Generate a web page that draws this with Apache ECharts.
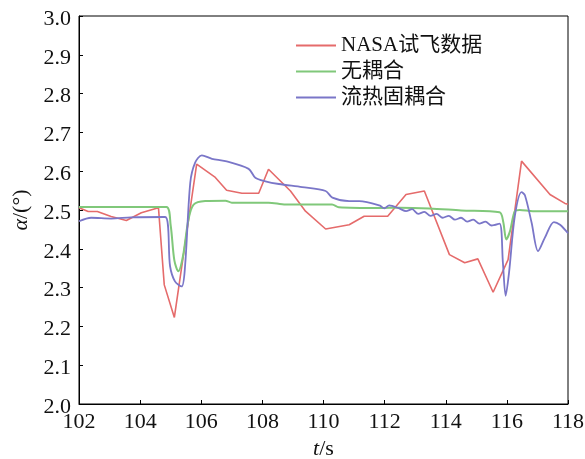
<!DOCTYPE html>
<html>
<head>
<meta charset="utf-8">
<script src="https://cdn.jsdelivr.net/npm/echarts@6/dist/echarts.min.js"></script>
<style>
  html, body { margin: 0; padding: 0; background: #fff; }
  #chart { width: 585px; height: 459px; }
</style>
</head>
<body>
<div id="chart"></div>
<script>
// NASA 试飞数据
const nasaData = [
  [102, 2.506], [102.3, 2.496], [102.6, 2.496], [103.05, 2.483], [103.55, 2.473],
  [104.04, 2.493], [104.6, 2.506], [104.79, 2.307], [105.12, 2.223], [105.85, 2.618],
  [106.46, 2.584], [106.83, 2.551], [107.33, 2.543], [107.88, 2.543], [108.2, 2.605],
  [108.92, 2.549], [109.41, 2.497], [110.07, 2.451], [110.84, 2.462], [111.33, 2.484],
  [112.1, 2.484], [112.7, 2.54], [113.3, 2.549], [114.12, 2.385], [114.62, 2.364],
  [115.05, 2.374], [115.55, 2.288], [116.04, 2.372], [116.48, 2.626], [117.41, 2.54],
  [117.9, 2.517], [118, 2.515]
];
// 无耦合
const uncoupledData = [
  [102, 2.508], [103, 2.508], [104, 2.508], [104.86, 2.508], [105.0, 2.46],
  [105.12, 2.37], [105.25, 2.342], [105.4, 2.38], [105.58, 2.475], [105.75, 2.514],
  [106.13, 2.523], [106.79, 2.524], [107.0, 2.519], [108.2, 2.519], [108.76, 2.514],
  [110.28, 2.514], [110.5, 2.507], [111.83, 2.505], [112.48, 2.506], [113.47, 2.504],
  [114.5, 2.499], [115.76, 2.494], [115.88, 2.47], [115.98, 2.424], [116.1, 2.445],
  [116.26, 2.497], [116.42, 2.5], [116.85, 2.497], [118, 2.497]
];
// 流热固耦合
const coupledData = [
  [102, 2.471], [102.4, 2.48], [103.05, 2.478], [103.7, 2.481], [104.82, 2.482],
  [104.98, 2.355], [105.14, 2.316], [105.36, 2.303], [105.47, 2.355], [105.64, 2.57],
  [105.8, 2.622], [106.02, 2.641], [106.35, 2.632], [106.79, 2.626], [107.55, 2.606],
  [107.77, 2.583], [108.1, 2.574], [108.54, 2.567], [109.3, 2.559], [110.07, 2.549],
  [110.29, 2.532], [110.84, 2.523], [111.17, 2.523], [111.83, 2.512], [111.99, 2.504],
  [112.15, 2.512], [112.48, 2.504], [112.7, 2.497], [112.9, 2.502], [113.1, 2.49],
  [113.3, 2.495], [113.5, 2.485], [113.7, 2.49], [113.9, 2.48], [114.1, 2.485],
  [114.3, 2.475], [114.5, 2.48], [114.7, 2.47], [114.9, 2.475], [115.1, 2.465],
  [115.3, 2.47], [115.5, 2.46], [115.76, 2.465], [115.87, 2.364], [115.96, 2.279],
  [116.07, 2.338], [116.26, 2.484], [116.48, 2.546], [116.59, 2.538], [116.81, 2.467],
  [117.02, 2.394], [117.24, 2.428], [117.54, 2.469], [117.74, 2.462], [118, 2.44]
];
const seriesNames = ['NASA试飞数据', '无耦合', '流热固耦合'];
const xTicks = { min: 102, max: 118, interval: 2 };
const yTicks = { min: 2.0, max: 3.0, interval: 0.1 };

const fontFam = 'Liberation Serif, Noto Sans CJK SC, serif';
const chart = echarts.init(document.getElementById('chart'));

const option = {
  backgroundColor: '#fff',
  animation: false,
  grid: {
    left: 79, right: 17, top: 16, bottom: 55,
    containLabel: false, outerBoundsMode: 'none',
    show: true, borderColor: '#000', borderWidth: 1
  },
  legend: {
    orient: 'vertical',
    left: 291, top: 30,
    icon: 'rect',
    itemWidth: 40, itemHeight: 2, itemGap: 5,
    data: seriesNames,
    textStyle: { fontFamily: fontFam, fontSize: 21, color: '#111' }
  },
  xAxis: {
    type: 'value',
    min: xTicks.min, max: xTicks.max, interval: xTicks.interval,
    name: '{i|t}/s',
    nameLocation: 'middle', nameGap: 33,
    nameTextStyle: {
      fontFamily: fontFam, fontSize: 22, color: '#111',
      rich: { i: { fontStyle: 'italic', fontFamily: fontFam, fontSize: 22 } }
    },
    axisLine: { lineStyle: { color: '#000', width: 1 } },
    axisTick: { inside: true, length: 4, lineStyle: { color: '#000' } },
    axisLabel: { fontFamily: fontFam, fontSize: 22, color: '#111', margin: 7 },
    splitLine: { show: false }
  },
  yAxis: {
    type: 'value',
    min: yTicks.min, max: yTicks.max, interval: yTicks.interval,
    name: '{i|α}/(°)',
    nameLocation: 'middle', nameGap: 47, nameRotate: 90,
    nameTextStyle: {
      fontFamily: fontFam, fontSize: 22, color: '#111',
      rich: { i: { fontStyle: 'italic', fontFamily: fontFam, fontSize: 22 } }
    },
    axisLine: { show: true, lineStyle: { color: '#000', width: 1 } },
    axisTick: { inside: true, length: 4, lineStyle: { color: '#000' } },
    axisLabel: {
      color: '#111', margin: 8,
      formatter: v => '{a|' + v.toFixed(1) + '}',
      rich: { a: { fontFamily: fontFam, fontSize: 22, color: '#111', padding: [6, 0, 0, 0] } }
    },
    splitLine: { show: false }
  },
  series: [
    {
      name: seriesNames[0], type: 'line', data: nasaData,
      symbol: 'none', smooth: false,
      lineStyle: { color: '#e56b6b', width: 1.6 },
      itemStyle: { color: '#e56b6b' }
    },
    {
      name: seriesNames[1], type: 'line', data: uncoupledData,
      symbol: 'none', smooth: 0.3,
      lineStyle: { color: '#80c87a', width: 2 },
      itemStyle: { color: '#80c87a' }
    },
    {
      name: seriesNames[2], type: 'line', data: coupledData,
      symbol: 'none', smooth: 0.3,
      lineStyle: { color: '#7a76c8', width: 1.8 },
      itemStyle: { color: '#7a76c8' }
    }
  ]
};
chart.setOption(option);
</script>
</body>
</html>
